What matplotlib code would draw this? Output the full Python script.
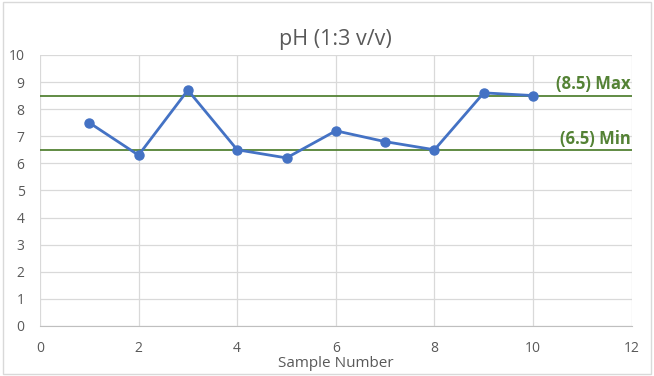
import matplotlib
matplotlib.use("Agg")
import matplotlib.pyplot as plt
from matplotlib.patches import Rectangle

sample = [1, 2, 3, 4, 5, 6, 7, 8, 9, 10]
ph = [7.5, 6.3, 8.7, 6.5, 6.2, 7.2, 6.8, 6.5, 8.6, 8.5]
max_val = 8.5
min_val = 6.5
x_ticks = [0, 2, 4, 6, 8, 10, 12]
y_ticks = list(range(0, 11))

plt.rcParams['font.family'] = ['Open Sans', 'DejaVu Sans']

fig = plt.figure(figsize=(6.54, 3.76), dpi=100)
fig.patches.append(Rectangle((0.004, 0.004), 0.992, 0.99, transform=fig.transFigure,
                             fill=False, edgecolor='#D9D9D9', linewidth=1.0))
ax = fig.add_axes([0.061, 0.133, 0.905, 0.721])
ax.set_xlim(0, 12)
ax.set_ylim(0, 10)
ax.set_xticks(x_ticks)
ax.set_yticks(y_ticks)
ax.grid(True, color='#D9D9D9', linewidth=0.9)
ax.set_axisbelow(True)
for s in ['top', 'right', 'left']:
    ax.spines[s].set_visible(False)
ax.spines['bottom'].set_color('#BFBFBF')
ax.tick_params(axis='x', length=0, labelsize=10, colors='#595959', pad=11)
ax.tick_params(axis='y', length=0, labelsize=10, colors='#595959', pad=11)

ax.axhline(max_val, color='#548235', linewidth=1.3)
ax.axhline(min_val, color='#548235', linewidth=1.3)
ax.plot(sample, ph, color='#4472C4', linewidth=2.0, marker='o', markersize=6.5)

ax.text(11.97, max_val + 0.08, f'({max_val}) Max', color='#548235', fontsize=12,
        fontweight='bold', ha='right', va='bottom')
ax.text(11.97, min_val + 0.08, f'({min_val}) Min', color='#548235', fontsize=12,
        fontweight='bold', ha='right', va='bottom')

ax.set_title('pH (1:3 v/v)', fontsize=15.5, color='#595959', pad=7)
ax.set_xlabel('Sample Number', fontsize=11, color='#595959', labelpad=0)

fig.savefig('out.png', dpi=100)
